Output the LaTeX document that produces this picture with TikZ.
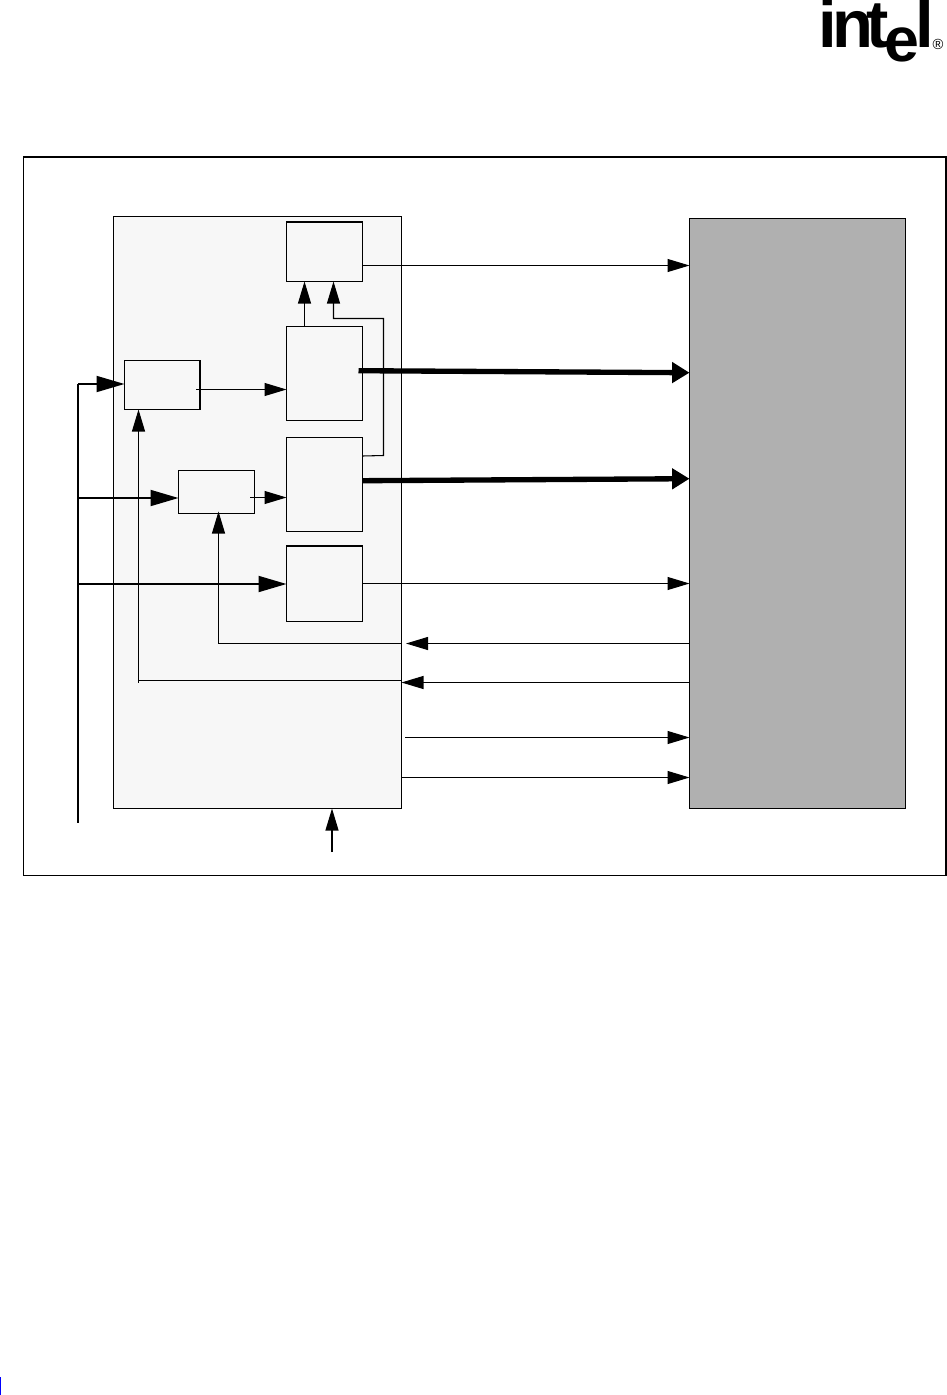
\documentclass[tikz,border=0pt]{standalone}
\usepackage{fontspec}
\setmainfont{Liberation Sans}
\usetikzlibrary{arrows.meta}
\definecolor{pale}{gray}{0.97}
\definecolor{midgray}{gray}{0.69}
\newfontfamily\logofont{Liberation Sans}[BoldFont={Liberation Sans Bold}]
\tikzset{
  x=0.75pt,y=-0.75pt,
  wire/.style={line width=0.8pt,draw=black},
  busv/.style={line width=1.4pt,draw=black},
  bush/.style={line width=1.4pt,draw=black},
  fat/.style={line width=4pt,draw=black},
  tipn/.style={-{Triangle[length=16.5pt,width=9.75pt]}},
  tipb/.style={-{Triangle[length=21pt,width=12pt]}},
  tipf/.style={-{Triangle[length=13pt,width=15pt]}},
  box/.style={draw=black,line width=0.8pt,inner sep=0pt,outer sep=0pt,anchor=north west},
  block/.style={box,fill=pale},
  edge/.style={line width=1.5pt,draw=black},
  logoletter/.style={inner sep=0pt,outer sep=0pt,anchor=base west,font=\logofont\bfseries\fontsize{50.25}{50.25}\selectfont},
}
\begin{document}
\begin{tikzpicture}[line join=miter]
\useasboundingbox (0,0) rectangle (946,1395);
\fill[white] (0,0) rectangle (946,1395);
\begin{scope}
\clip (0,0) rectangle (946,1395);
\node[logoletter] (li) at (818.3,48) {i};
\node[logoletter] (ln) at (832,48) {n};
\node[logoletter] (lt) at (866,48) {t};
\node[logoletter,font=\logofont\bfseries\fontsize{47}{47}\selectfont] (le) at (884,62) {e};
\node[logoletter] (ll) at (915.3,48) {l};
\node[inner sep=0pt,outer sep=0pt,anchor=base west,font=\logofont\fontsize{11}{11}\selectfont] (lr) at (932.5,50) {®};
\end{scope}
% frame
\node[box,minimum width=691.5pt,minimum height=539.25pt] (frame) at (23.5,156.5) {};
\draw[edge] (frame.north west) -- (frame.north east) -- (frame.south east);
% big panels
\node[block,minimum width=216pt,minimum height=444pt] (chip) at (113.5,216.5) {};
\node[box,fill=midgray,minimum width=162pt,minimum height=442.5pt] (panel) at (689.5,218.5) {};
% blocks
\node[block,minimum width=57pt,minimum height=44.625pt] (ba) at (286.5,222) {};
\node[block,minimum width=57pt,minimum height=70.5pt] (bb) at (286.5,326.5) {};
\node[block,minimum width=57pt,minimum height=70.5pt] (bc) at (286.5,437.5) {};
\node[block,minimum width=57pt,minimum height=56.625pt] (bd) at (286.5,546) {};
\node[block,minimum width=56.625pt,minimum height=36.75pt] (be) at (124.5,360.5) {};
\node[block,minimum width=57pt,minimum height=32.25pt] (bf) at (178.5,470.5) {};
\draw[edge] (ba.north west) -- (ba.north east);
\draw[edge] (bd.north west) -- (bd.north east);
\draw[edge] (be.north east) -- (be.south east);
% free ends
\coordinate (busbot) at (78,822.5);
\coordinate (bustop) at (78,384);
\coordinate (inlow) at (405,737.5);
\coordinate (clk) at (332,852);
\coordinate (gap) at (406,643.5);
% thin connectors
\draw[wire,tipn] (ba.east |- 0,265.5) -- (panel.west |- 0,265.5);
\draw[wire,tipn] (304.5,0 |- bb.north) -- (304.5,0 |- ba.south);
\draw[wire,tipn] (bc.east |- 0,456) -- (383.5,455.5) -- (383.5,318.5) -- (333.5,318.5) -- (333.5,0 |- ba.south);
\draw[wire,tipn] (196,389.5) -- (bb.west |- 0,389.5);
\draw[wire,tipn] (250,497.5) -- (bc.west |- 0,497.5);
\draw[wire,tipn] (bd.east |- 0,583.5) -- (panel.west |- 0,583.5);
\draw[wire,tipn] (panel.west |- 0,643.5) -- (gap);
\draw[wire] (chip.east |- 0,643.5) -- (218.5,643.5);
\draw[wire,tipn] (218.5,643.5) -- (218.5,511.5);
\draw[wire,tipn] (panel.west |- 0,682.5) -- (chip.east |- 0,682.5);
\draw[wire] (chip.east |- 0,680.5) -- (138.5,680.5);
\draw[wire,tipn] (138.5,682.5) -- (138.5,0 |- be.south);
\draw[wire,tipn] (inlow) -- (panel.west |- inlow);
\draw[wire,tipn] (chip.east |- 0,777.5) -- (panel.west |- 0,777.5);
\draw[wire,tipn] (clk) -- (clk |- chip.south);
% bus
\draw[busv] (busbot) -- (bustop);
\draw[bush,tipb] (78,384) -- (be.west |- 0,384);
\draw[bush,tipb] (78,498) -- (bf.west |- 0,498);
\draw[bush,tipb] (78,584) -- (bd.west |- 0,584);
% wide data paths
\draw[fat,tipf] (358.5,370.7) -- (panel.west |- 0,372.7);
\draw[fat,tipf] (bc.east |- 0,480.7) -- (panel.west |- 0,478.7);
% page edge mark
\fill[blue] (0,1377) rectangle (1.2,1395);
\end{tikzpicture}
\end{document}
